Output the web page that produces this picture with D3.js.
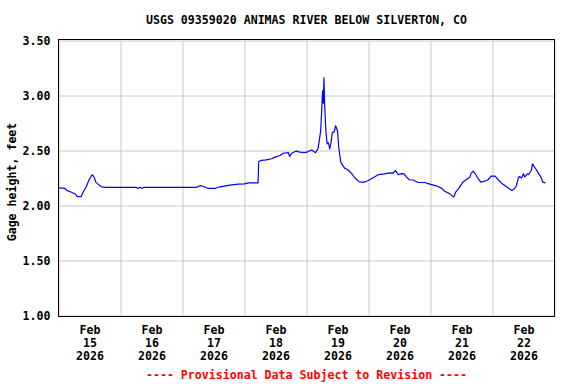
<!DOCTYPE html>
<html>
<head>
<meta charset="utf-8">
<script src="https://cdn.jsdelivr.net/npm/d3@7"></script>
<style>
body { margin: 0; background: #fff; }
text { font-family: "DejaVu Sans Mono", monospace; font-weight: bold; font-size: 11.6px; }
</style>
</head>
<body>
<svg class="gage-chart"></svg>
<script>
var title = "USGS 09359020 ANIMAS RIVER BELOW SILVERTON, CO";
var yLabel = "Gage height, feet";
var footer = "---- Provisional Data Subject to Revision ----";
var yTicks = [1.0, 1.5, 2.0, 2.5, 3.0, 3.5];
var dayLabels = ["2026-02-15", "2026-02-16", "2026-02-17", "2026-02-18", "2026-02-19", "2026-02-20", "2026-02-21", "2026-02-22"];

var times = [
	"2026-02-15 00:00", "2026-02-15 02:30", "2026-02-15 03:00", "2026-02-15 05:00", "2026-02-15 06:30", "2026-02-15 07:15",
	"2026-02-15 08:45", "2026-02-15 09:30", "2026-02-15 10:45", "2026-02-15 11:45", "2026-02-15 13:00", "2026-02-15 13:45",
	"2026-02-15 14:30", "2026-02-15 15:45", "2026-02-15 16:45", "2026-02-15 18:15", "2026-02-16 06:00", "2026-02-16 06:45",
	"2026-02-16 07:30", "2026-02-16 08:15", "2026-02-16 09:00", "2026-02-17 05:15", "2026-02-17 06:45", "2026-02-17 08:00",
	"2026-02-17 10:00", "2026-02-17 12:30", "2026-02-17 14:30", "2026-02-17 18:15", "2026-02-17 21:30", "2026-02-18 00:00",
	"2026-02-18 01:30", "2026-02-18 05:15", "2026-02-18 05:30", "2026-02-18 06:30", "2026-02-18 08:30", "2026-02-18 10:30",
	"2026-02-18 11:45", "2026-02-18 13:45", "2026-02-18 15:00", "2026-02-18 17:00", "2026-02-18 17:30", "2026-02-18 18:15",
	"2026-02-18 20:00", "2026-02-18 21:30", "2026-02-18 23:15", "2026-02-19 00:30", "2026-02-19 02:00", "2026-02-19 03:30",
	"2026-02-19 04:30", "2026-02-19 05:30", "2026-02-19 06:00", "2026-02-19 06:15", "2026-02-19 06:30", "2026-02-19 06:45",
	"2026-02-19 07:00", "2026-02-19 07:30", "2026-02-19 08:00", "2026-02-19 08:30", "2026-02-19 09:00", "2026-02-19 09:30",
	"2026-02-19 10:00", "2026-02-19 10:45", "2026-02-19 11:15", "2026-02-19 12:00", "2026-02-19 12:30", "2026-02-19 13:15",
	"2026-02-19 14:00", "2026-02-19 14:45", "2026-02-19 16:00", "2026-02-19 17:30", "2026-02-19 18:45", "2026-02-19 20:30",
	"2026-02-19 22:00", "2026-02-19 23:15", "2026-02-20 00:30", "2026-02-20 01:45", "2026-02-20 03:45", "2026-02-20 06:15",
	"2026-02-20 08:15", "2026-02-20 09:30", "2026-02-20 10:30", "2026-02-20 11:30", "2026-02-20 12:45", "2026-02-20 13:45",
	"2026-02-20 14:45", "2026-02-20 15:45", "2026-02-20 17:15", "2026-02-20 19:15", "2026-02-20 21:45", "2026-02-20 23:45",
	"2026-02-21 02:15", "2026-02-21 04:15", "2026-02-21 05:30", "2026-02-21 07:30", "2026-02-21 09:00", "2026-02-21 09:45",
	"2026-02-21 10:45", "2026-02-21 11:15", "2026-02-21 12:30", "2026-02-21 13:45", "2026-02-21 15:15", "2026-02-21 15:45",
	"2026-02-21 16:30", "2026-02-21 17:30", "2026-02-21 18:30", "2026-02-21 19:30", "2026-02-21 21:00", "2026-02-21 22:15",
	"2026-02-21 23:30", "2026-02-22 01:00", "2026-02-22 02:15", "2026-02-22 03:30", "2026-02-22 04:45", "2026-02-22 06:00",
	"2026-02-22 07:30", "2026-02-22 08:30", "2026-02-22 09:15", "2026-02-22 10:00", "2026-02-22 10:30", "2026-02-22 11:15",
	"2026-02-22 12:00", "2026-02-22 12:30", "2026-02-22 13:30", "2026-02-22 14:00", "2026-02-22 15:00", "2026-02-22 15:30",
	"2026-02-22 16:15", "2026-02-22 17:00", "2026-02-22 17:45", "2026-02-22 18:45", "2026-02-22 19:30", "2026-02-22 20:30"
];

var gageHeight = [
	2.16, 2.155, 2.14, 2.12, 2.105, 2.08,
	2.08, 2.12, 2.17, 2.23, 2.28, 2.26,
	2.21, 2.185, 2.17, 2.165, 2.165, 2.155,
	2.165, 2.155, 2.165, 2.165, 2.18, 2.175,
	2.155, 2.155, 2.17, 2.185, 2.195, 2.197,
	2.205, 2.205, 2.40, 2.41, 2.415, 2.425,
	2.44, 2.455, 2.475, 2.48, 2.445, 2.475,
	2.495, 2.485, 2.48, 2.488, 2.505, 2.48,
	2.52, 2.68, 2.92, 3.045, 2.93, 3.16,
	2.93, 2.67, 2.56, 2.57, 2.515, 2.575,
	2.665, 2.67, 2.725, 2.68, 2.525, 2.395,
	2.365, 2.34, 2.325, 2.29, 2.25, 2.215,
	2.21, 2.22, 2.234, 2.252, 2.28, 2.288,
	2.297, 2.295, 2.318, 2.28, 2.29, 2.288,
	2.258, 2.234, 2.232, 2.209, 2.209, 2.194,
	2.179, 2.158, 2.13, 2.106, 2.076, 2.121,
	2.148, 2.167, 2.212, 2.234, 2.258, 2.294,
	2.312, 2.282, 2.243, 2.212, 2.221, 2.234,
	2.267, 2.267, 2.234, 2.203, 2.182, 2.161,
	2.136, 2.152, 2.18, 2.252, 2.264, 2.25,
	2.288, 2.258, 2.288, 2.282, 2.318, 2.379,
	2.348, 2.325, 2.294, 2.258, 2.212, 2.206
];

function parseData(times, values) {
	var parseTime = d3.timeParse("%Y-%m-%d %H:%M");
	var dataResponse = [];
	for (var i = 0; i < times.length; i++) {
		dataResponse.push({ date: parseTime(times[i]), value: values[i] });
	}
	return dataResponse;
}

function drawChart(data) {
	var svgWidth = 576, svgHeight = 384;
	var margin = { top: 40.5, right: 21.5, bottom: 68.5, left: 58.5 };
	var width = svgWidth - margin.left - margin.right;
	var height = svgHeight - margin.top - margin.bottom;
	var parseDay = d3.timeParse("%Y-%m-%d");

	var svg = d3.select(".gage-chart")
	.attr("width", svgWidth)
	.attr("height", svgHeight);

	var g = svg.append("g")
	.attr("transform", "translate(" + margin.left + "," + margin.top + ")");

	var x = d3.scaleTime()
	.domain([parseDay("2026-02-15"), parseDay("2026-02-23")])
	.range([0, width]);

	var y = d3.scaleLinear()
	.domain([1.0, 3.5])
	.range([height, 0]);

	// horizontal grid + tick labels
	var yAxis = g.append("g")
	.call(d3.axisLeft(y).tickValues(yTicks).tickSize(-width).tickPadding(8).tickFormat(d3.format(".2f")));
	yAxis.select(".domain").remove();
	yAxis.selectAll("line").attr("stroke", "#c8c8c8");
	yAxis.selectAll("text").attr("fill", "#000").attr("dy", "0.36em");

	// vertical grid at midnight
	var xGrid = g.append("g")
	.attr("transform", "translate(0," + height + ")")
	.call(d3.axisBottom(x).ticks(d3.timeDay.every(1)).tickSize(-height).tickFormat(""));
	xGrid.select(".domain").remove();
	xGrid.selectAll("line").attr("stroke", "#c8c8c8");

	// day labels at noon
	var noon = dayLabels.map(function(d) { return d3.timeHour.offset(parseDay(d), 12); });
	var xAxis = g.append("g")
	.attr("transform", "translate(0," + height + ")")
	.call(d3.axisBottom(x).tickValues(noon).tickSize(0).tickFormat(""));
	xAxis.select(".domain").remove();
	var fmt = [d3.timeFormat("%b"), d3.timeFormat("%d"), d3.timeFormat("%Y")];
	xAxis.selectAll(".tick").each(function(d) {
		var t = d3.select(this).append("text")
		.attr("fill", "#000")
		.attr("text-anchor", "middle");
		for (var k = 0; k < 3; k++) {
			t.append("tspan").attr("x", 0).attr("y", 18.5 + k * 13).text(fmt[k](d));
		}
	});

	g.append("path")
	.datum(data)
	.attr("fill", "none")
	.attr("stroke", "#0000ff")
	.attr("stroke-width", 1.2)
	.attr("stroke-linejoin", "round")
	.attr("d", d3.line()
		.x(function(d) { return x(d.date); })
		.y(function(d) { return y(d.value); }));

	// frame
	g.append("rect")
	.attr("x", 0)
	.attr("y", -1)
	.attr("width", width)
	.attr("height", height + 2)
	.attr("fill", "none")
	.attr("stroke", "#000");

	svg.append("text")
	.attr("x", margin.left + width / 2)
	.attr("y", 24)
	.attr("text-anchor", "middle")
	.text(title);

	svg.append("text")
	.attr("transform", "translate(16," + (margin.top + height / 2 + 4) + ") rotate(-90)")
	.attr("text-anchor", "middle")
	.text(yLabel);

	svg.append("text")
	.attr("x", margin.left + width / 2)
	.attr("y", 379)
	.attr("text-anchor", "middle")
	.attr("fill", "#ff0000")
	.text(footer);
}

drawChart(parseData(times, gageHeight));
</script>
</body>
</html>
